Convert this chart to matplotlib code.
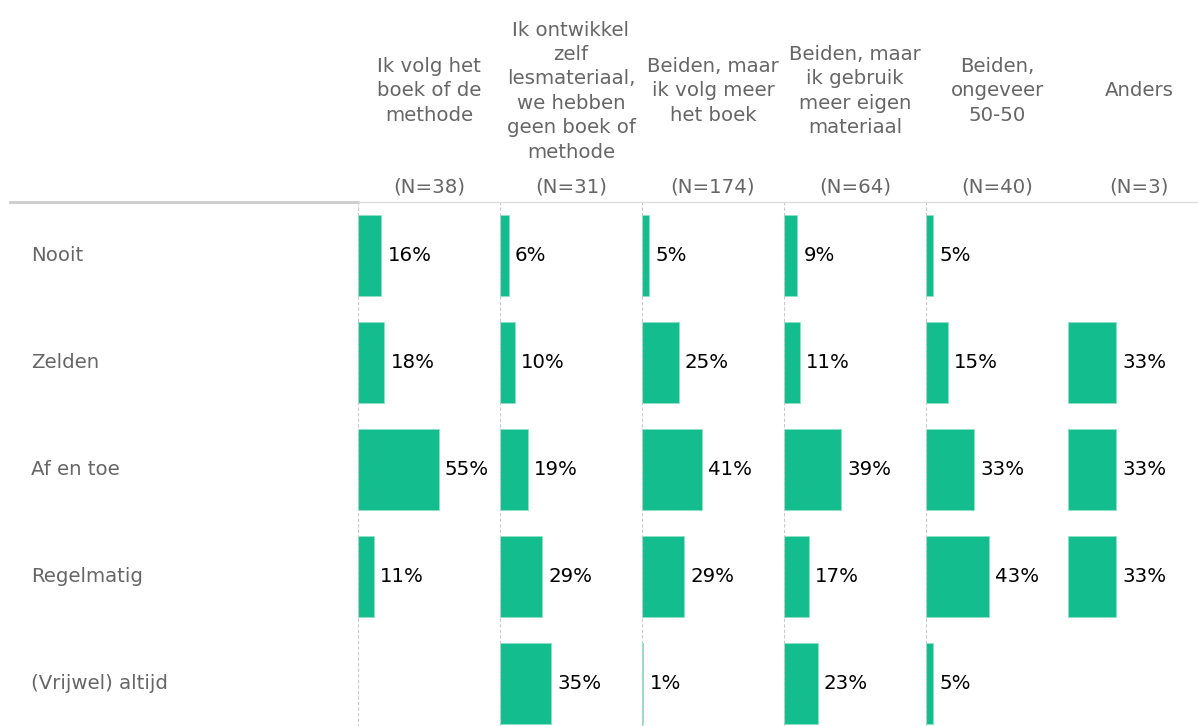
import numpy as np
import matplotlib.pyplot as plt

# categories
rows = ["Nooit", "Zelden", "Af en toe", "Regelmatig", "(Vrijwel) altijd"]
groups = ["Ik volg het\nboek of de\nmethode",
          "Ik ontwikkel\nzelf\nlesmateriaal,\nwe hebben\ngeen boek of\nmethode",
          "Beiden, maar\nik volg meer\nhet boek",
          "Beiden, maar\nik gebruik\nmeer eigen\nmateriaal",
          "Beiden,\nongeveer\n50-50",
          "Anders"]
n_counts = [38, 31, 174, 64, 40, 3]

# percentages per group (None = no bar)
boek = [16, 18, 55, 11, None]
eigen = [6, 10, 19, 29, 35]
meer_boek = [5, 25, 41, 29, 1]
meer_eigen = [9, 11, 39, 17, 23]
fifty = [5, 15, 33, 43, 5]
anders = [None, 33, 33, 33, None]
values = [boek, eigen, meer_boek, meer_eigen, fifty, anders]

green = "#13bd8e"
grey = "#666666"

W, H = 1198, 726
fig = plt.figure(figsize=(W / 100, H / 100), dpi=100)
plt.rcParams['font.family'] = ['DejaVu Sans']
fs = 14.2

left0 = 358
pw = 142
top = 202
row_h = 107
ax_h = row_h * 5

# header rule
fig.add_artist(plt.Line2D([10 / W, left0 / W], [1 - top / H] * 2, color="#cccccc", lw=2))
fig.add_artist(plt.Line2D([left0 / W, 1], [1 - top / H] * 2, color="#dddddd", lw=1))

# row labels
for k, r in enumerate(rows):
    y = 1 - (top + row_h * (k + 0.5)) / H
    fig.text(31 / W, y, r, color=grey, fontsize=fs, ha="left", va="center")

for i, (g, vals) in enumerate(zip(groups, values)):
    x0 = left0 + pw * i
    ax = fig.add_axes([x0 / W, 1 - (top + ax_h) / H, pw / W, ax_h / H])
    ax.set_xlim(0, 97)
    ax.set_ylim(4.5, -0.5)
    ax.axis("off")
    if i < 5:
        ax.axvline(0, color="#c8c8c8", lw=0.8, ls=(0, (3, 2)))
    for k, v in enumerate(vals):
        if v is None:
            continue
        ax.barh(k, v, height=0.75, color=green, edgecolor="#8fe0c7", lw=0.6)
        ax.annotate(f"{v}%", (v, k), xytext=(4.5, 0), textcoords="offset points",
                    ha="left", va="center", fontsize=fs, color="black")
    cx = (x0 + pw / 2) / W
    fig.text(cx, 1 - 91 / H, g, ha="center", va="center", color=grey,
             fontsize=fs, linespacing=1.36)
    fig.text(cx, 1 - 187 / H, f"(N={n_counts[i]})", ha="center", va="center",
             color=grey, fontsize=fs)

fig.savefig("out.png", dpi=100)
